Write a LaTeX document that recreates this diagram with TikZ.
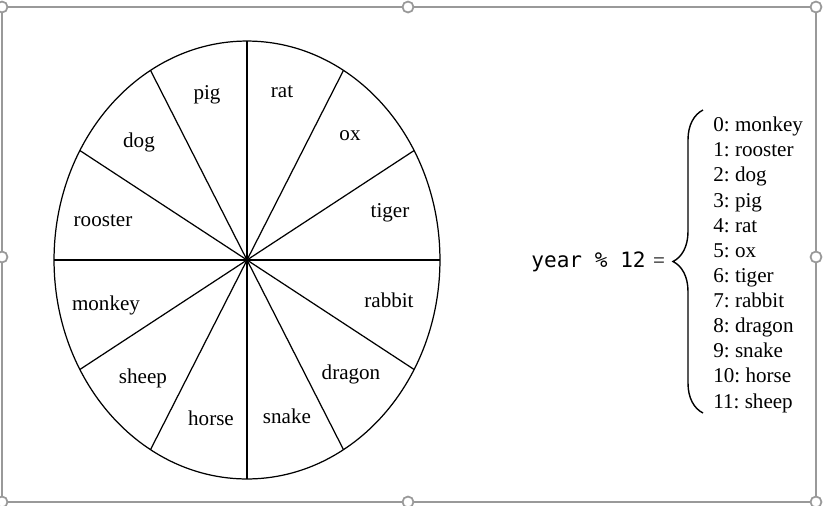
\documentclass[tikz,border=0pt]{standalone}
\usepackage{fontspec}
\setmainfont{Liberation Serif}
\newfontfamily\codefont{DejaVu Sans Mono}
\usetikzlibrary{decorations.pathreplacing}
\frenchspacing

\begin{document}
\begin{tikzpicture}[
  x=0.02cm, y=-0.02cm,
  animal/.style={font=\fontsize{12}{14.3}\selectfont, inner sep=0pt},
  spoke/.style={line width=0.7pt},
  handle/.style={draw=black!40, fill=white, line width=1pt},
]
  \useasboundingbox (0,0) rectangle (823,505);
  % selection frame round the figure
  \draw[black!40, line width=1pt] (2,7) rectangle (816,502);
  \path[handle] (2,7) circle [radius=0.11cm] (408,7) circle [radius=0.11cm]
        (816,7) circle [radius=0.11cm] (2,257) circle [radius=0.11cm]
        (816,257) circle [radius=0.11cm] (2,502) circle [radius=0.11cm]
        (408,502) circle [radius=0.11cm] (816,502) circle [radius=0.11cm];
  % the wheel, six diameters
  \coordinate (hub) at (247,260);
  \draw[spoke] (hub) ellipse [x radius=3.86cm, y radius=4.38cm];
  \draw[spoke] (hub) ++(0:3.86cm and 4.38cm) -- ++(180:7.72cm and 8.76cm);
  \draw[spoke] (hub) ++(30:3.86cm and 4.38cm) -- ++(210:7.72cm and 8.76cm);
  \draw[spoke] (hub) ++(60:3.86cm and 4.38cm) -- ++(240:7.72cm and 8.76cm);
  \draw[spoke] (hub) ++(90:3.86cm and 4.38cm) -- ++(270:7.72cm and 8.76cm);
  \draw[spoke] (hub) ++(120:3.86cm and 4.38cm) -- ++(300:7.72cm and 8.76cm);
  \draw[spoke] (hub) ++(150:3.86cm and 4.38cm) -- ++(330:7.72cm and 8.76cm);
  % animals, clockwise from the top
  \node[animal] (rat) at (282,92) {rat};
  \node[animal] (ox) at (350,136) {ox};
  \node[animal] (tiger) at (390,213) {tiger};
  \node[animal] (rabbit) at (389,300) {rabbit};
  \node[animal] (dragon) at (351,374) {dragon};
  \node[animal] (snake) at (287,416) {snake};
  \node[animal] (horse) at (211,418) {horse};
  \node[animal] (sheep) at (143,378) {sheep};
  \node[animal] (monkey) at (106,305) {monkey};
  \node[animal] (rooster) at (103,221) {rooster};
  \node[animal] (dog) at (139,142) {dog};
  \node[animal] (pig) at (207,95) {pig};
  % year formula and the table
  \node[animal, font=\fontsize{12}{14.3}\selectfont\codefont, anchor=base east]
        (expr) at (646,267) {year \% 12};
  \node[animal, anchor=base] (eq) at (659,267) {=};
  \draw[line width=0.8pt, decorate, decoration={brace, amplitude=0.6cm}]
        (703,413) -- (703,110);
  \node[animal, align=left, anchor=base west] (table) at (713,408)
    {0: monkey\\1: rooster\\2: dog\\3: pig\\4: rat\\5: ox\\6: tiger\\
     7: rabbit\\8: dragon\\9: snake\\10: horse\\11: sheep};
\end{tikzpicture}
\end{document}
